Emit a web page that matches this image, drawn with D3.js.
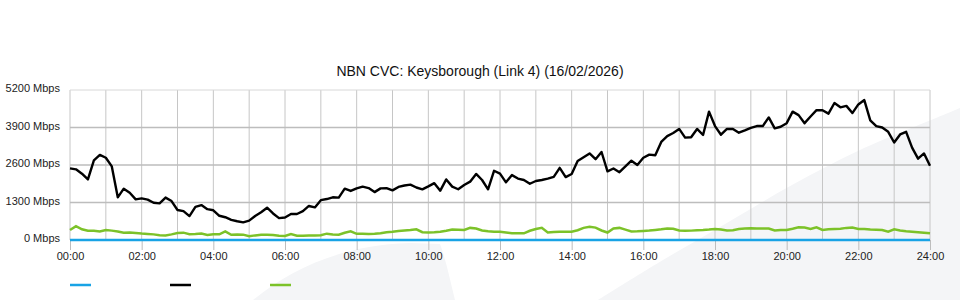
<!DOCTYPE html>
<html>
<head>
<meta charset="utf-8">
<script src="https://cdn.jsdelivr.net/npm/d3@7"></script>
<style>
  body { margin: 0; background: #fff; }
  svg { font-family: "Liberation Sans", Arial, Helvetica, sans-serif; }
</style>
</head>
<body>
<div id="chart"></div>
<script>
// 10 minute samples, 00:00 -> 24:00
var blackValues = [
  2485, 2450, 2300, 2100, 2760, 2950, 2850, 2550, 1480, 1780, 1640, 1410,
  1444, 1400, 1290, 1270, 1470, 1350, 1040, 1000, 830, 1150, 1210, 1070,
  1030, 840, 790, 700, 650, 612, 670, 830, 960, 1120, 920, 760,
  780, 900, 900, 1000, 1180, 1130, 1380, 1420, 1480, 1470, 1780, 1700,
  1790, 1850, 1800, 1660, 1790, 1800, 1720, 1840, 1890, 1920, 1820, 1757,
  1860, 1970, 1710, 2100, 1850, 1760, 1907, 2022, 2290, 2080, 1757, 2400,
  2300, 2000, 2250, 2130, 2080, 1950, 2045, 2080, 2126, 2190, 2500, 2180,
  2288, 2740, 2870, 3000, 2800, 3050, 2380, 2480, 2350, 2550, 2750, 2600,
  2850, 2960, 2940, 3400, 3600, 3710, 3850, 3550, 3560, 3850, 3640, 4450,
  3950, 3650, 3850, 3850, 3720, 3800, 3890, 3950, 3950, 4250, 3871, 3925,
  4050, 4449, 4330, 4050, 4280, 4500, 4500, 4380, 4750, 4600, 4650, 4400,
  4700, 4850, 4150, 3950, 3900, 3750, 3380, 3660, 3750, 3200, 2820, 3000,
  2577
];
var greenValues = [
  347, 480, 370, 320, 320, 295, 345, 325, 295, 250, 260, 245,
  225, 210, 195, 165, 160, 195, 240, 255, 200, 205, 225, 175,
  197, 197, 300, 180, 190, 185, 130, 160, 180, 185, 170, 150,
  140, 205, 150, 150, 155, 160, 165, 220, 190, 180, 250, 300,
  215, 220, 205, 215, 231, 270, 290, 315, 330, 345, 370, 270,
  260, 270, 290, 320, 365, 355, 347, 420, 400, 330, 300, 290,
  285, 260, 235, 230, 232, 320, 380, 420, 260, 280, 290, 285,
  290, 340, 420, 460, 430, 330, 260, 400, 420, 360, 295, 300,
  315, 330, 350, 370, 400, 390, 330, 320, 325, 340, 345, 360,
  380, 360, 330, 340, 380, 400, 405, 400, 400, 400, 330, 350,
  350, 390, 440, 430, 380, 440, 350, 370, 385, 390, 420, 430,
  385, 380, 360, 355, 345, 290, 370, 330, 300, 290, 270, 250,
  231
];
// hourly samples
var blueValues = [0, 0, 0, 0, 0, 0, 0, 0, 0, 0, 0, 0, 0, 0, 0, 0, 0, 0, 0, 0, 0, 0, 0, 0, 0];
var yTicks = [0, 1300, 2600, 3900, 5200];
var title = "NBN CVC: Keysborough (Link 4) (16/02/2026)";
var legendColors = ["#18a3e5", "#000000", "#7cc229"];

var width = 960, height = 300;
var svg = d3.select("#chart").append("svg")
  .attr("width", width)
  .attr("height", height);

// background swooshes
var swoosh = d3.line().curve(d3.curveCatmullRom);
svg.append("path")
  .attr("d", swoosh([[598, 300], [663, 260], [720, 227], [792, 185], [860, 150], [936, 118], [960, 108]]) + "L960,300Z")
  .attr("fill", "#f4f5f7");
svg.append("path")
  .attr("d", "M253,300C290,270 340,245 410,243L440,244C446,260 450,280 455,300Z")
  .attr("fill", "#f4f5f7");

var x = d3.scaleLinear().domain([0, 1440]).range([70, 930]);
var y = d3.scaleLinear().domain([0, 5200]).range([240, 90]);

// vertical grid (hourly)
svg.append("g").selectAll("line")
  .data(d3.range(0, 1441, 60))
  .enter().append("line")
  .attr("x1", function(d) { return x(d); })
  .attr("x2", function(d) { return x(d); })
  .attr("y1", 90).attr("y2", 240)
  .attr("stroke", "#c6c6c6")
  .attr("stroke-width", 1);

// top border
svg.append("line")
  .attr("x1", 70).attr("x2", 930).attr("y1", 90).attr("y2", 90)
  .attr("stroke", "#d8d8d8");

// horizontal grid
svg.append("g").selectAll("line")
  .data(yTicks.slice(1, 4))
  .enter().append("line")
  .attr("x1", 70).attr("x2", 930)
  .attr("y1", function(d) { return y(d); })
  .attr("y2", function(d) { return y(d); })
  .attr("stroke", "#bdbdbd")
  .attr("stroke-width", 1.5);

// y labels
svg.append("g").selectAll("text")
  .data(yTicks)
  .enter().append("text")
  .attr("x", 60)
  .attr("y", function(d) { return y(d); })
  .attr("dy", "0.2em")
  .attr("text-anchor", "end")
  .attr("font-size", 11)
  .attr("fill", "#222")
  .text(function(d) { return d + " Mbps"; });

// x axis ticks + labels
var xAxis = d3.axisBottom(x)
  .tickValues(d3.range(0, 1441, 120))
  .tickSize(10)
  .tickFormat(function(d) { return d3.format("02d")(d / 60) + ":00"; });
var gx = svg.append("g")
  .attr("transform", "translate(0,240)")
  .call(xAxis);
gx.select(".domain").remove();
gx.selectAll(".tick line").attr("stroke", "#bdbdbd");
gx.selectAll(".tick text")
  .attr("font-size", 11)
  .attr("font-family", "Liberation Sans, Arial, sans-serif")
  .attr("fill", "#222")
  .attr("y", 12);

// series
var line = d3.line()
  .x(function(d) { return x(d[0]); })
  .y(function(d) { return y(d[1]); });

svg.append("path")
  .datum(greenValues.map(function(v, i) { return [i * 10, v]; }))
  .attr("d", line)
  .attr("fill", "none")
  .attr("stroke", legendColors[2])
  .attr("stroke-width", 2.5);

svg.append("path")
  .datum(blueValues.map(function(v, i) { return [i * 60, v]; }))
  .attr("d", line)
  .attr("fill", "none")
  .attr("stroke", legendColors[0])
  .attr("stroke-width", 2.5);

svg.append("path")
  .datum(blackValues.map(function(v, i) { return [i * 10, v]; }))
  .attr("d", line)
  .attr("fill", "none")
  .attr("stroke", legendColors[1])
  .attr("stroke-width", 2.4)
  .attr("stroke-linejoin", "round");

// title
svg.append("text")
  .attr("x", 480).attr("y", 76)
  .attr("text-anchor", "middle")
  .attr("font-size", 14)
  .attr("fill", "#111")
  .text(title);

// legend (swatches only)
svg.append("g").selectAll("line")
  .data(legendColors)
  .enter().append("line")
  .attr("x1", function(d, i) { return 70 + i * 100; })
  .attr("x2", function(d, i) { return 91 + i * 100; })
  .attr("y1", 285).attr("y2", 285)
  .attr("stroke", function(d) { return d; })
  .attr("stroke-width", 2.5);
</script>
</body>
</html>
